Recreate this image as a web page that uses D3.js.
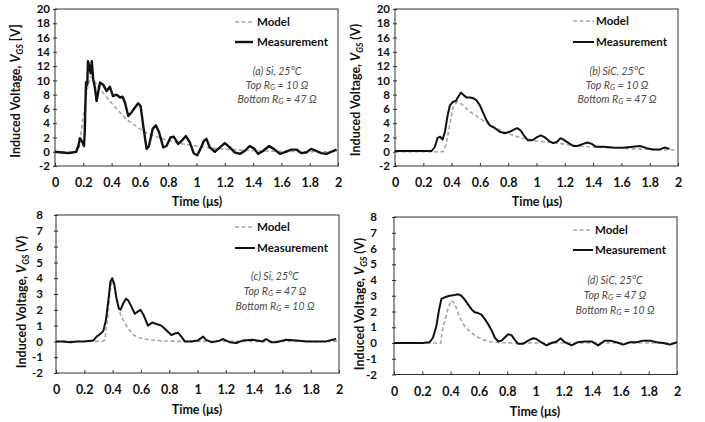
<!DOCTYPE html>
<html>
<head>
<meta charset="utf-8">
<script src="https://cdn.jsdelivr.net/npm/d3@7"></script>
<style>
  body { margin: 0; background: #fff; }
  svg { display: block; font-family: Lato, "Open Sans", sans-serif; }
</style>
</head>
<body>
<div id="chart"></div>
<script>
// ---- data ----
const timeTicks = [0, 0.2, 0.4, 0.6, 0.8, 1, 1.2, 1.4, 1.6, 1.8, 2];
const voltTicksTop = [-2, 0, 2, 4, 6, 8, 10, 12, 14, 16, 18, 20];
const voltTicksBottom = [-2, -1, 0, 1, 2, 3, 4, 5, 6, 7, 8];

const caseLabels = ["(a) Si, 25°C", "(b) SiC, 25°C", "(c) Si, 25°C", "(d) SiC, 25°C"];
const topRg = ["10", "10", "47", "47"];
const bottomRg = ["47", "47", "10", "10"];
const unitLabels = ["[V]", "(V)", "(V)", "(V)"];

// (a) Si, top 10 / bottom 47
const measA = [[0,0],[0.05,-0.1],[0.1,-0.2],[0.15,0],[0.165,0.8],[0.176,1.9],[0.195,1.3],[0.205,0.8],[0.21,2.7],
  [0.219,9.7],[0.228,9.4],[0.233,12.7],[0.242,12],[0.252,11],[0.26,12.7],[0.27,10.1],[0.282,9],[0.294,7.1],
  [0.318,9.7],[0.34,9.4],[0.365,8.5],[0.388,9.1],[0.41,7.8],[0.435,8],[0.46,7.6],[0.478,7.7],[0.494,6.9],
  [0.518,5],[0.54,5.5],[0.565,6.2],[0.588,6.8],[0.605,6.4],[0.624,3.6],[0.647,0.4],[0.664,0.8],[0.69,3.2],
  [0.713,3.7],[0.736,2.7],[0.765,0.6],[0.788,0.8],[0.816,2],[0.84,2.1],[0.87,1.1],[0.894,1.5],[0.925,2.2],
  [0.953,1.3],[0.98,-0.2],[1.005,-0.5],[1.028,0.4],[1.052,1.5],[1.07,1.8],[1.094,0.6],[1.13,0],[1.165,0.6],
  [1.2,1.2],[1.235,0.6],[1.27,-0.1],[1.306,-0.3],[1.34,0.1],[1.376,0.8],[1.41,0.4],[1.435,-0.3],[1.47,0.1],
  [1.513,0.8],[1.546,0.4],[1.59,-0.3],[1.62,-0.1],[1.67,0.3],[1.706,0.3],[1.74,-0.2],[1.776,-0.1],[1.81,0.4],
  [1.847,0.1],[1.88,-0.2],[1.918,-0.3],[1.953,0],[1.99,0.3]];
const modelA = [[0,0],[0.15,0],[0.17,0.5],[0.18,2],[0.2,5],[0.225,8.5],[0.25,10.5],[0.27,10.3],[0.3,9.2],
  [0.35,8],[0.4,6.8],[0.45,5.7],[0.5,4.6],[0.55,3.9],[0.6,3.2],[0.65,2.6],[0.7,2.2],[0.8,1.6],[0.9,1.1],
  [1,0.8],[1.1,0.5],[1.2,0.35],[1.4,0.15],[1.6,0.05],[1.8,0],[2,0]];

// (b) SiC, top 10 / bottom 47
const measB = [[0,0.1],[0.1,0.1],[0.2,0.1],[0.259,0.1],[0.282,0.7],[0.3,1.9],[0.318,2.1],[0.336,1.7],[0.353,2.8],
  [0.37,4.9],[0.388,6.5],[0.41,7],[0.43,7.1],[0.447,7.7],[0.466,8.3],[0.487,7.9],[0.506,7.6],[0.53,7.6],
  [0.553,7.5],[0.576,7.2],[0.6,6.5],[0.624,5.4],[0.647,4.4],[0.67,3.7],[0.706,3.3],[0.74,2.8],[0.776,2.6],
  [0.81,2.8],[0.84,3.1],[0.864,3.3],[0.887,3],[0.91,2.3],[0.94,1.6],[0.97,1.6],[1,2],[1.03,2.3],[1.06,2],
  [1.09,1.5],[1.118,1.2],[1.146,1.4],[1.17,1.9],[1.19,1.7],[1.22,1.3],[1.26,0.8],[1.29,0.8],[1.33,1.1],
  [1.36,1.3],[1.39,1.1],[1.42,0.7],[1.47,0.7],[1.54,0.6],[1.61,0.55],[1.68,0.7],[1.73,0.8],[1.78,0.5],
  [1.82,0.3],[1.87,0.3],[1.906,0.6],[1.94,0.4]];
const modelB = [[0,0],[0.3,0],[0.34,0],[0.36,1],[0.38,3],[0.41,6.3],[0.44,7],[0.47,6.7],[0.53,5.6],[0.6,4.7],
  [0.67,3.7],[0.79,2.6],[0.9,1.9],[1,1.5],[1.1,1.3],[1.2,1.05],[1.33,0.75],[1.5,0.55],[1.7,0.4],[1.85,0.3],[2,0.25]];

// (c) Si, top 47 / bottom 10
const measC = [[0,0],[0.05,0],[0.1,-0.05],[0.15,0],[0.2,0],[0.263,0.05],[0.287,0.3],[0.31,0.45],[0.334,0.65],
  [0.353,1.35],[0.37,2.6],[0.385,3.8],[0.397,4],[0.41,3.7],[0.428,2.7],[0.444,2.1],[0.456,2],[0.475,2.4],
  [0.494,2.7],[0.51,2.6],[0.533,2.2],[0.557,1.75],[0.58,1.9],[0.597,2],[0.62,1.65],[0.65,1],[0.68,1.2],
  [0.71,1.1],[0.745,1],[0.78,0.7],[0.815,0.4],[0.84,0.5],[0.862,0.55],[0.886,0.3],[0.91,0],[0.956,0],
  [1,0.05],[1.04,0.3],[1.06,0.1],[1.1,-0.05],[1.156,0.05],[1.18,0.15],[1.227,-0.05],[1.274,-0.1],[1.32,0.05],
  [1.39,0.1],[1.46,0],[1.485,0.15],[1.52,-0.05],[1.556,-0.05],[1.626,0.1],[1.7,0.05],[1.77,0],[1.84,0],
  [1.91,0],[1.955,0.1],[1.98,0.15]];
const modelC = [[0,0],[0.33,0],[0.345,0.1],[0.363,1.3],[0.378,2.8],[0.394,3.9],[0.41,3.5],[0.425,2.8],[0.44,2.2],
  [0.46,1.6],[0.49,1.1],[0.52,0.7],[0.55,0.4],[0.6,0.2],[0.66,0.1],[0.75,0.03],[0.9,0],[2,0]];

// (d) SiC, top 47 / bottom 10
const measD = [[0,0],[0.1,0],[0.2,0],[0.252,0.05],[0.276,0.35],[0.3,1.1],[0.318,2.1],[0.335,2.8],[0.358,2.9],
  [0.394,3],[0.43,3.05],[0.453,3.1],[0.476,3],[0.5,2.75],[0.523,2.45],[0.547,2.15],[0.57,1.95],[0.594,1.9],
  [0.618,1.8],[0.64,1.55],[0.665,1.2],[0.69,0.8],[0.712,0.35],[0.736,0.1],[0.76,0.15],[0.783,0.35],[0.807,0.55],
  [0.83,0.5],[0.854,0.2],[0.877,-0.05],[0.913,-0.05],[0.948,0.15],[0.983,0.3],[1.007,0.25],[1.04,0.05],
  [1.078,-0.15],[1.113,0],[1.15,0.1],[1.177,0.3],[1.207,0.05],[1.255,-0.15],[1.3,0.05],[1.35,0.1],[1.396,0.1],
  [1.443,-0.15],[1.49,0.15],[1.526,0.15],[1.573,0.05],[1.62,-0.1],[1.667,0.05],[1.715,0.05],[1.76,0.15],
  [1.81,0.15],[1.856,0.05],[1.9,0],[1.95,-0.1],[2,0.05]];
const modelD = [[0,0],[0.33,0],[0.345,1],[0.36,1.45],[0.385,2.3],[0.405,2.7],[0.43,2.5],[0.455,1.8],[0.5,1.05],
  [0.54,0.7],[0.585,0.4],[0.63,0.2],[0.68,0.08],[0.75,0.02],[0.85,0],[2,0]];

// ---- layout of the four panels ----
const panels = [
  {meas: measA, model: modelA, yTicks: voltTicksTop, left: 55, right: 338, top: 9, bottom: 166, labGap: 5,
   xLabY: 183, xTitle: [197, 202], yTitle: [16, 91], legend: [235, 253, 257, 22, 42], note: [277, 71, 85, 99], measW: 2.4},
  {meas: measB, model: modelB, yTicks: voltTicksTop, left: 395, right: 678, top: 9, bottom: 166, labGap: 5,
   xLabY: 183, xTitle: [537, 202], yTitle: [356, 90], legend: [573, 594, 596, 21, 42], note: [617, 71, 85, 99], measW: 2},
  {meas: measC, model: modelC, yTicks: voltTicksBottom, left: 56, right: 339, top: 215, bottom: 373, labGap: 13,
   xLabY: 390, xTitle: [197, 410], yTitle: [22, 302], legend: [235, 255, 257, 227, 248], note: [275, 276, 291, 306], measW: 2},
  {meas: measD, model: modelD, yTicks: voltTicksBottom, left: 394, right: 677, top: 217, bottom: 374.5, labGap: 17,
   xLabY: 392, xTitle: [535, 412], yTitle: [360, 304], legend: [573, 593, 595, 230, 250], note: [615, 280, 295, 310], measW: 2}
];

const svg = d3.select("#chart").append("svg")
  .attr("width", 705)
  .attr("height", 422);

const fmt = d => String(d);

panels.forEach((p, i) => {
  const g = svg.append("g");
  const x = d3.scaleLinear().domain([0, 2]).range([p.left, p.right]);
  const yMin = d3.min(p.yTicks), yMax = d3.max(p.yTicks);
  const y = d3.scaleLinear().domain([yMin, yMax]).range([p.bottom, p.top]);

  // frame
  g.append("rect")
    .attr("x", p.left).attr("y", p.top)
    .attr("width", p.right - p.left).attr("height", p.bottom - p.top)
    .attr("fill", "none").attr("stroke", "#303030").attr("stroke-width", 1);

  // x axis, ticks pointing in
  const xAxis = g.append("g")
    .attr("transform", `translate(0,${p.bottom})`)
    .call(d3.axisBottom(x).tickValues(timeTicks).tickFormat(fmt).tickSizeInner(-3).tickSizeOuter(0));
  xAxis.select(".domain").remove();
  xAxis.selectAll("line").attr("stroke", "#303030");
  xAxis.selectAll("text")
    .attr("y", p.xLabY - p.bottom).attr("dy", "0.35em")
    .attr("font-family", "Lato, sans-serif").attr("font-weight", "bold").attr("font-size", 12.5).attr("fill", "#111");

  // y axis, ticks crossing the frame
  const yAxis = g.append("g")
    .attr("transform", `translate(${p.left},0)`)
    .call(d3.axisLeft(y).tickValues(p.yTicks).tickFormat(fmt).tickSizeInner(3).tickSizeOuter(0));
  yAxis.select(".domain").remove();
  yAxis.selectAll("line").attr("x1", -2).attr("x2", 2).attr("stroke", "#303030");
  yAxis.selectAll("text")
    .attr("x", -p.labGap)
    .attr("font-family", "Lato, sans-serif").attr("font-weight", "bold").attr("font-size", 11.5).attr("fill", "#111");

  // curves
  const line = d3.line().x(d => x(d[0])).y(d => y(d[1]));
  g.append("path").datum(p.model)
    .attr("d", line).attr("fill", "none")
    .attr("stroke", "#a6a6a6").attr("stroke-width", 1.6).attr("stroke-dasharray", "4,2.5");
  g.append("path").datum(p.meas)
    .attr("d", line).attr("fill", "none")
    .attr("stroke", "#111").attr("stroke-width", p.measW).attr("stroke-linejoin", "round");

  // axis titles
  g.append("text")
    .attr("x", p.xTitle[0]).attr("y", p.xTitle[1]).attr("dy", "0.35em")
    .attr("text-anchor", "middle").attr("font-weight", "bold").attr("font-size", 12.5).attr("fill", "#111")
    .text("Time (μs)");

  const yt = g.append("text")
    .attr("transform", `translate(${p.yTitle[0]},${p.yTitle[1]}) rotate(-90)`)
    .attr("dy", "0.35em")
    .attr("text-anchor", "middle").attr("font-weight", "bold").attr("font-size", 12.5).attr("fill", "#111");
  yt.append("tspan").text("Induced Voltage, ");
  yt.append("tspan").attr("font-style", "italic").text("V");
  yt.append("tspan").attr("font-style", "italic").attr("font-size", 8.5).attr("dy", 2.5).text("GS");
  yt.append("tspan").attr("dy", -2.5).text(" " + unitLabels[i]);

  // legend
  const lg = p.legend;
  g.append("line")
    .attr("x1", lg[0]).attr("x2", lg[1]).attr("y1", lg[3]).attr("y2", lg[3])
    .attr("stroke", "#a6a6a6").attr("stroke-width", 1.6).attr("stroke-dasharray", "4,2.5");
  g.append("line")
    .attr("x1", lg[0]).attr("x2", lg[1]).attr("y1", lg[4]).attr("y2", lg[4])
    .attr("stroke", "#111").attr("stroke-width", p.measW);
  g.append("text").attr("x", lg[2]).attr("y", lg[3]).attr("dy", "0.35em")
    .attr("font-weight", "bold").attr("font-size", 11.5).attr("fill", "#111").text("Model");
  g.append("text").attr("x", lg[2]).attr("y", lg[4]).attr("dy", "0.35em")
    .attr("font-weight", "bold").attr("font-size", 11.5).attr("fill", "#111").text("Measurement");

  // case annotation
  const nt = p.note;
  const noteText = (yy) => g.append("text")
    .attr("x", nt[0]).attr("y", yy).attr("dy", "0.35em")
    .attr("text-anchor", "middle").attr("font-style", "italic").attr("font-size", 10.5).attr("fill", "#4a4a4a");
  noteText(nt[1]).text(caseLabels[i]);
  [["Top ", topRg[i]], ["Bottom ", bottomRg[i]]].forEach((r, k) => {
    const t = noteText(nt[2 + k]);
    t.append("tspan").text(r[0] + "R");
    t.append("tspan").attr("font-size", 7.5).attr("dy", 1.5).text("G");
    t.append("tspan").attr("dy", -1.5).text(" = " + r[1] + " Ω");
  });
});
</script>
</body>
</html>
